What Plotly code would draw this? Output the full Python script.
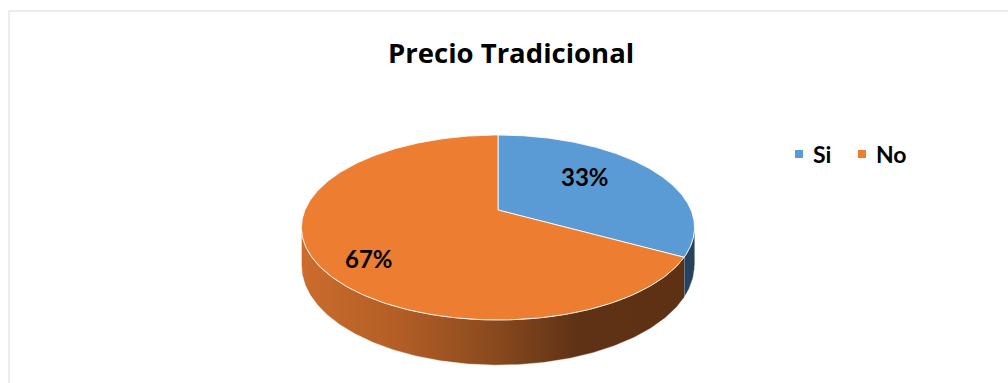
import numpy as np
import plotly.graph_objects as go

# ---- data ----
labels = ["Si", "No"]
values = [33, 67]
title_text = "Precio Tradicional"

# ---- styling ----
top_colors = ["#5B9BD5", "#ED7D31"]
side_colors = ["#26425F", "#8F4D1F"]
side_gradient = [[0.0, "#CB6C2D"], [0.25, "#B35E26"], [0.5, "#8A4A1E"],
                 [0.72, "#5F3215"], [1.0, "#5E3114"]]
FONT = "Lato"
TITLE_FONT = "Open Sans"

W, H = 1008, 383

# perspective disc: projected centre, horizontal scale, projective terms, wall depth
CX, CY = 498.0, 210.0
KX = 193.0
BV = -49.46
CV = 0.1892
H0 = 36.6


def project(theta_deg, r=1.0):
    """Map a point on the pie (angle clockwise from the far side, radius r) to the page."""
    th = np.radians(theta_deg)
    u = r * np.sin(th)
    v = r * np.cos(th)
    d = 1.0 + CV * v
    x = CX + KX * u / d
    y = (CY + BV * v) / d
    depth = H0 / d
    return x, y, depth


total = float(sum(values))
fracs = [v / total for v in values]
starts = np.concatenate([[0.0], np.cumsum(fracs)[:-1]]) * 360.0
ends = np.cumsum(fracs) * 360.0

# visible front wall lies between the two horizontal extremes of the disc
edge = np.degrees(np.arccos(-CV))
front_lo, front_hi = edge, 360.0 - edge

fig = go.Figure()

# side walls
for i, (a, b) in enumerate(zip(starts, ends)):
    lo, hi = max(a, front_lo), min(b, front_hi)
    if hi <= lo:
        continue
    th = np.linspace(lo, hi, 200)
    xt, yt, dt = project(th)
    xs = np.concatenate([xt, xt[::-1]])
    ys = np.concatenate([yt, (yt + dt)[::-1]])
    kw = dict(fillcolor=side_colors[i])
    if i == 1:
        kw["fillgradient"] = dict(type="horizontal", colorscale=side_gradient,
                                  start=float(xt.min()), stop=float(xt.max()))
    fig.add_trace(go.Scatter(
        x=xs, y=ys, mode="lines", fill="toself",
        line=dict(color="rgba(255,255,255,0.55)", width=0.8),
        hoverinfo="skip", showlegend=False, **kw))

# top faces
for i, (a, b) in enumerate(zip(starts, ends)):
    th = np.linspace(a, b, 300)
    xt, yt, _ = project(th)
    xs = np.concatenate([[CX], xt, [CX]])
    ys = np.concatenate([[CY], yt, [CY]])
    fig.add_trace(go.Scatter(
        x=xs, y=ys, mode="lines", fill="toself", fillcolor=top_colors[i],
        line=dict(color="rgba(255,255,255,0.85)", width=1),
        name=labels[i], hoverinfo="skip", showlegend=False))

# percentage labels
label_r = [0.55, 0.72]
label_shift = [10, -13]
for i, (a, b) in enumerate(zip(starts, ends)):
    mid = (a + b) / 2.0
    lx, ly, _ = project(mid, label_r[i])
    pct = round(100 * fracs[i])
    fig.add_annotation(x=float(lx), y=float(ly), yshift=label_shift[i],
                       text=f"{pct}%", showarrow=False,
                       font=dict(family=FONT, size=24, color="#000000", weight="bold"))

# title
fig.add_annotation(x=511, y=52, text=title_text, showarrow=False,
                   font=dict(family=TITLE_FONT, size=27.5, color="#000000", weight="bold"))

# legend
leg_x = [799, 862]
for i, name in enumerate(labels):
    fig.add_shape(type="rect", x0=leg_x[i] - 4, x1=leg_x[i] + 4, y0=150, y1=158,
                  fillcolor=top_colors[i], line=dict(width=0))
    fig.add_annotation(x=leg_x[i] + 12, y=154, text=name, showarrow=False,
                       xanchor="left",
                       font=dict(family=FONT, size=23, color="#000000", weight="bold"))

# chart area border
fig.add_shape(type="rect", x0=9, y0=11, x1=W + 5, y1=H + 5,
              line=dict(color="#D9D9D9", width=1), fillcolor="rgba(0,0,0,0)")

fig.update_xaxes(range=[0, W], visible=False, fixedrange=True)
fig.update_yaxes(range=[H, 0], visible=False, fixedrange=True)
fig.update_layout(width=W, height=H, margin=dict(l=0, r=0, t=0, b=0),
                  paper_bgcolor="white", plot_bgcolor="white", showlegend=False)

fig.write_html("out.html")
